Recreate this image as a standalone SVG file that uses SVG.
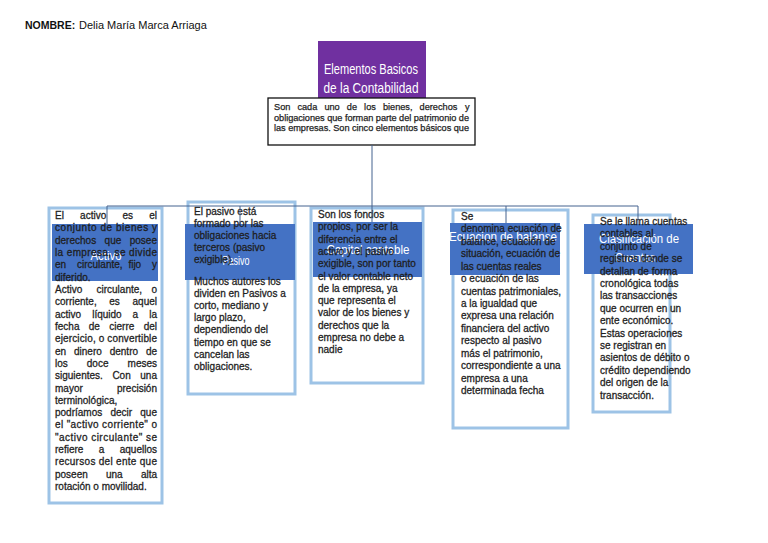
<svg xmlns="http://www.w3.org/2000/svg" width="768" height="543" viewBox="0 0 768 543">
<style>
.bg{fill:#ffffff}
.b{font-family:"Liberation Sans",Arial,sans-serif;font-size:10px;fill:#1e1e1e;stroke:#1e1e1e;stroke-width:0.28}
.t{font-family:"Liberation Sans",Arial,sans-serif;font-size:9.2px;fill:#1e1e1e;stroke:#1e1e1e;stroke-width:0.25}
.card{fill:#ffffff;stroke:#9dc3e6;stroke-width:3}
.tb{fill:#4472c4}
.tt{font-family:"Liberation Sans",Arial,sans-serif;font-size:13px;fill:#ffffff;text-anchor:middle}
.conn{stroke:#44638f;stroke-width:1;fill:none}
</style>
<rect class="bg" x="0" y="0" width="768" height="543"/>

<g id="header">
<text x="25" y="29" font-family="'Liberation Sans',Arial,sans-serif" font-size="11" fill="#111"><tspan font-weight="bold" font-size="10.5">NOMBRE:</tspan><tspan x="79">Delia María Marca Arriaga</tspan></text>
</g>

<g id="root">
<rect x="318" y="41" width="108" height="58" fill="#7030a0"/>
<text x="371" y="74" font-family="'Liberation Sans',Arial,sans-serif" font-size="14" fill="#fff" text-anchor="middle" textLength="94" lengthAdjust="spacingAndGlyphs">Elementos Basicos</text>
<text x="371" y="93" font-family="'Liberation Sans',Arial,sans-serif" font-size="14" fill="#fff" text-anchor="middle" textLength="95" lengthAdjust="spacingAndGlyphs">de la Contabilidad</text>
<rect x="268" y="98" width="207" height="47" fill="#fff" stroke="#111" stroke-width="1.3"/>
<text class="t" y="110"><tspan x="274">Son</tspan><tspan x="297.4">cada</tspan><tspan x="324.4">uno</tspan><tspan x="346.8">de</tspan><tspan x="364.1">los</tspan><tspan x="382.9">bienes,</tspan><tspan x="419.6">derechos</tspan><tspan x="469.5" text-anchor="end">y</tspan></text>
<text class="t" x="274" y="120.5" textLength="195" lengthAdjust="spacing">obligaciones que forman parte del patrimonio de</text>
<text class="t" x="274" y="131" textLength="195" lengthAdjust="spacing">las empresas. Son cinco elementos básicos que</text>
</g>

<g id="node-activo">
<rect class="card" x="49" y="208" width="113" height="295"/>
<rect class="tb" x="52" y="224" width="106" height="57"/>
<text class="tt" x="106" y="260" textLength="31" lengthAdjust="spacingAndGlyphs">Activo</text>
<text class="b" y="219"><tspan x="55">El</tspan><tspan x="80.1">activo</tspan><tspan x="122.4">es</tspan><tspan x="157" text-anchor="end">el</tspan></text>
<text class="b" x="55" y="231.3" textLength="102" lengthAdjust="spacing">conjunto de bienes y</text>
<text class="b" y="243.6"><tspan x="55">derechos</tspan><tspan x="104.6">que</tspan><tspan x="157" text-anchor="end">posee</tspan></text>
<text class="b" x="55" y="256" textLength="102" lengthAdjust="spacing">la empresa, se divide</text>
<text class="b" y="268.3"><tspan x="55">en</tspan><tspan x="77">circulante,</tspan><tspan x="128.4">fijo</tspan><tspan x="157" text-anchor="end">y</tspan></text>
<text class="b" x="55" y="280.6">diferido.</text>
<text class="b" y="292.9"><tspan x="55">Activo</tspan><tspan x="96.5">circulante,</tspan><tspan x="157" text-anchor="end">o</tspan></text>
<text class="b" y="305.2"><tspan x="55">corriente,</tspan><tspan x="109.3">es</tspan><tspan x="157" text-anchor="end">aquel</tspan></text>
<text class="b" y="317.6"><tspan x="55">activo</tspan><tspan x="92.2">líquido</tspan><tspan x="132.6">a</tspan><tspan x="157" text-anchor="end">la</tspan></text>
<text class="b" y="329.9"><tspan x="55">fecha</tspan><tspan x="88.8">de</tspan><tspan x="109.3">cierre</tspan><tspan x="157" text-anchor="end">del</tspan></text>
<text class="b" x="55" y="342.2" textLength="102" lengthAdjust="spacing">ejercicio, o convertible</text>
<text class="b" y="354.5"><tspan x="55">en</tspan><tspan x="74">dinero</tspan><tspan x="109.7">dentro</tspan><tspan x="157" text-anchor="end">de</tspan></text>
<text class="b" y="366.8"><tspan x="55">los</tspan><tspan x="86.8">doce</tspan><tspan x="157" text-anchor="end">meses</tspan></text>
<text class="b" y="379.2"><tspan x="55">siguientes.</tspan><tspan x="112.4">Con</tspan><tspan x="157" text-anchor="end">una</tspan></text>
<text class="b" y="391.5"><tspan x="55">mayor</tspan><tspan x="157" text-anchor="end">precisión</tspan></text>
<text class="b" x="55" y="403.8">terminológica,</text>
<text class="b" y="416.1"><tspan x="55">podríamos</tspan><tspan x="110.4">decir</tspan><tspan x="157" text-anchor="end">que</tspan></text>
<text class="b" x="55" y="428.4" textLength="102" lengthAdjust="spacing">el "activo corriente" o</text>
<text class="b" x="55" y="440.8" textLength="102" lengthAdjust="spacing">"activo circulante" se</text>
<text class="b" y="453.1"><tspan x="55">refiere</tspan><tspan x="98.8">a</tspan><tspan x="157" text-anchor="end">aquellos</tspan></text>
<text class="b" x="55" y="465.4" textLength="102" lengthAdjust="spacing">recursos del ente que</text>
<text class="b" y="477.7"><tspan x="55">poseen</tspan><tspan x="106">una</tspan><tspan x="157" text-anchor="end">alta</tspan></text>
<text class="b" x="55" y="490">rotación o movilidad.</text>
</g>

<g id="node-pasivo">
<rect class="card" x="188" y="202" width="107" height="192"/>
<rect class="tb" x="185" y="224" width="110" height="56"/>
<text class="tt" x="236" y="265" textLength="27" lengthAdjust="spacingAndGlyphs">Pasivo</text>
<text class="b" x="194" y="215">El pasivo está</text>
<text class="b" x="194" y="227.1">formado por las</text>
<text class="b" x="194" y="239.2">obligaciones hacia</text>
<text class="b" x="194" y="251.3">terceros (pasivo</text>
<text class="b" x="194" y="263.4">exigible).</text>
<text class="b" x="194" y="285">Muchos autores los</text>
<text class="b" x="194" y="297.1">dividen en Pasivos a</text>
<text class="b" x="194" y="309.2">corto, mediano y</text>
<text class="b" x="194" y="321.3">largo plazo,</text>
<text class="b" x="194" y="333.4">dependiendo del</text>
<text class="b" x="194" y="345.5">tiempo en que se</text>
<text class="b" x="194" y="357.6">cancelan las</text>
<text class="b" x="194" y="369.7">obligaciones.</text>
</g>

<g id="node-capital">
<rect class="card" x="311" y="208" width="112" height="175"/>
<rect class="tb" x="313" y="222" width="109" height="55"/>
<text class="tt" x="368" y="254" textLength="83" lengthAdjust="spacingAndGlyphs">Capital contable</text>
<text class="b" x="318" y="218">Son los fondos</text>
<text class="b" x="318" y="230.3">propios, por ser la</text>
<text class="b" x="318" y="242.6">diferencia entre el</text>
<text class="b" x="318" y="254.9">activo y el pasivo</text>
<text class="b" x="318" y="267.2">exigible, son por tanto</text>
<text class="b" x="318" y="279.5">el valor contable neto</text>
<text class="b" x="318" y="291.8">de la empresa, ya</text>
<text class="b" x="318" y="304.1">que representa el</text>
<text class="b" x="318" y="316.4">valor de los bienes y</text>
<text class="b" x="318" y="328.7">derechos que la</text>
<text class="b" x="318" y="341">empresa no debe a</text>
<text class="b" x="318" y="353.3">nadie</text>
</g>

<g id="node-ecuacion">
<rect class="card" x="453" y="210" width="115" height="218"/>
<rect class="tb" x="450" y="223" width="110" height="52"/>
<text class="tt" x="503" y="241" textLength="108" lengthAdjust="spacingAndGlyphs">Ecuacion de balanse</text>
<text class="b" x="461" y="220">Se</text>
<text class="b" x="461" y="232.4">denomina ecuación de</text>
<text class="b" x="461" y="244.9">balance, ecuación de</text>
<text class="b" x="461" y="257.3">situación, ecuación de</text>
<text class="b" x="461" y="269.7">las cuentas reales</text>
<text class="b" x="461" y="282.2">o ecuación de las</text>
<text class="b" x="461" y="294.6">cuentas patrimoniales,</text>
<text class="b" x="461" y="307">a la igualdad que</text>
<text class="b" x="461" y="319.4">expresa una relación</text>
<text class="b" x="461" y="331.9">financiera del activo</text>
<text class="b" x="461" y="344.3">respecto al pasivo</text>
<text class="b" x="461" y="356.7">más el patrimonio,</text>
<text class="b" x="461" y="369.2">correspondiente a una</text>
<text class="b" x="461" y="381.6">empresa a una</text>
<text class="b" x="461" y="394">determinada fecha</text>
</g>

<g id="node-clasificacion">
<rect class="card" x="593" y="215" width="77" height="197"/>
<rect class="tb" x="584" y="224" width="109" height="50"/>
<text class="tt" x="639" y="243" textLength="80" lengthAdjust="spacingAndGlyphs">Clasificación de</text>
<text class="tt" x="635" y="262" textLength="40" lengthAdjust="spacingAndGlyphs">Cuentas</text>
<text class="b" x="600" y="225">Se le llama cuentas</text>
<text class="b" x="600" y="237.4">contables al</text>
<text class="b" x="600" y="249.8">conjunto de</text>
<text class="b" x="600" y="262.2">registros donde se</text>
<text class="b" x="600" y="274.6">detallan de forma</text>
<text class="b" x="600" y="287">cronológica todas</text>
<text class="b" x="600" y="299.4">las transacciones</text>
<text class="b" x="600" y="311.8">que ocurren en un</text>
<text class="b" x="600" y="324.2">ente económico.</text>
<text class="b" x="600" y="336.6">Estas operaciones</text>
<text class="b" x="600" y="349">se registran en</text>
<text class="b" x="600" y="361.4">asientos de débito o</text>
<text class="b" x="600" y="373.8">crédito dependiendo</text>
<text class="b" x="600" y="386.2">del origen de la</text>
<text class="b" x="600" y="398.6">transacción.</text>
</g>

<g id="connectors">
<path class="conn" d="M372 145 V222"/>
<path class="conn" d="M107 206 H638"/>
<path class="conn" d="M107 206 V224"/>
<path class="conn" d="M240 206 V224"/>
<path class="conn" d="M506 206 V223"/>
<path class="conn" d="M638 206 V224"/>
</g>
</svg>
